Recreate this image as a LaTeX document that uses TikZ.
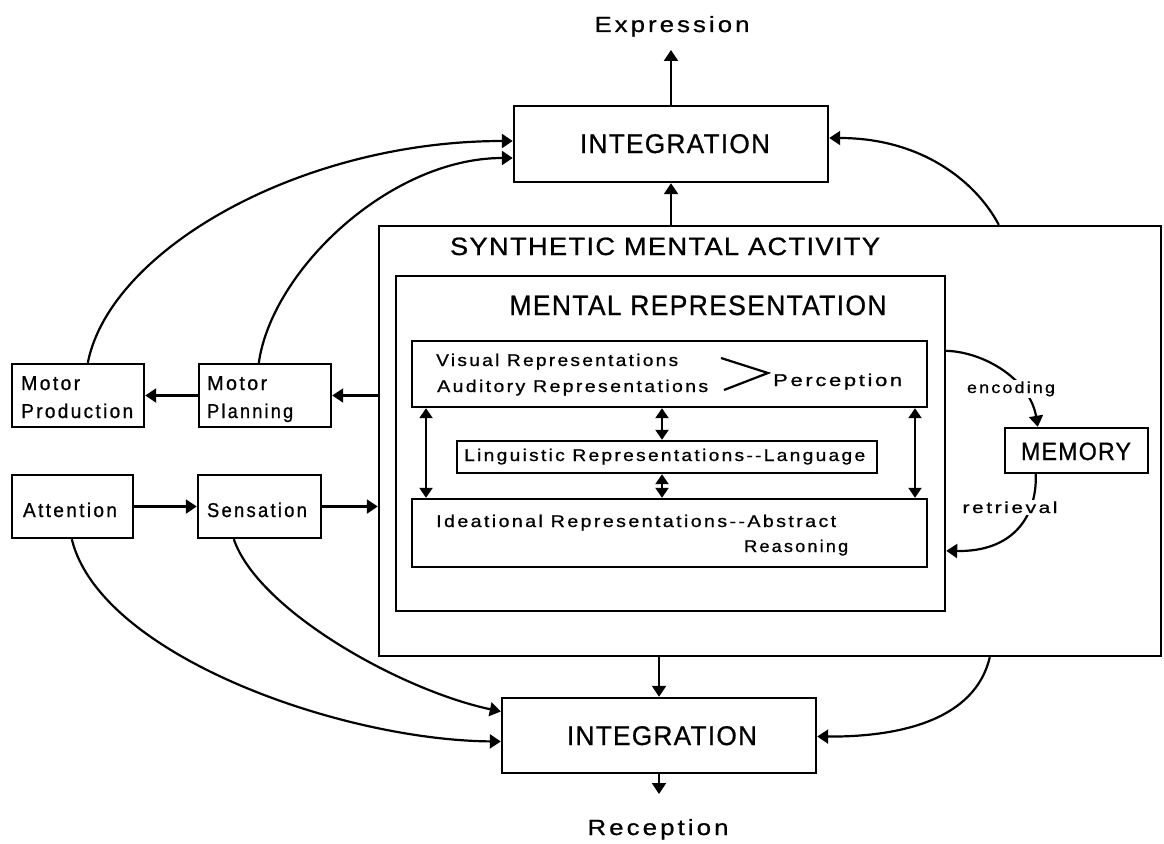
\documentclass[tikz,border=0pt]{standalone}
\usepackage{fontspec}
\usepackage{graphicx}
\usetikzlibrary{arrows.meta,fit,calc}
\newfontfamily\lcf[LetterSpace=12,FakeBold=0.8]{Liberation Sans}
\newfontfamily\ucf[LetterSpace=5,FakeBold=0.8]{Liberation Sans}
\newcommand\fw[3]{\resizebox{#1pt}{\height}{\fontsize{#2}{#2}\selectfont #3}}
\begin{document}
\begin{tikzpicture}[x=1pt,y=-1pt,
  box/.style={draw, line width=2.4pt, inner sep=0pt},
  lbl/.style={inner sep=0pt, font=\lcf},
  capl/.style={inner sep=0pt, font=\ucf},
  arr/.style={line width=2.2pt, -{Triangle[length=11pt,width=14pt]}},
  darr/.style={line width=2.2pt, {Triangle[length=10pt,width=13pt]}-{Triangle[length=10pt,width=13pt]}},
  ln/.style={line width=2.2pt}]
\useasboundingbox (0,0) rectangle (1164,843);
\fill[white] (0,0) rectangle (1164,843);

% boxes
\node[box, fit={(514,106) (828,182)}] (int1) {};
\node[box, fit={(379,226) (1161,656)}] (syn) {};
\node[box, fit={(396,276) (945,611)}] (mr) {};
\node[box, fit={(412,341) (927,407)}] (vis) {};
\node[box, fit={(457,441) (877,473)}] (ling) {};
\node[box, fit={(412,499) (927,567)}] (idea) {};
\node[box, fit={(1005,428) (1148,473)}] (mem) {};
\node[box, fit={(12,364) (144,427)}] (mprod) {};
\node[box, fit={(199,364) (331,427)}] (mplan) {};
\node[box, fit={(12,475) (133,538)}] (att) {};
\node[box, fit={(198,475) (321,538)}] (sens) {};
\node[box, fit={(502,698) (816,773)}] (int2) {};

% texts in boxes
\node[capl, anchor=base] (int1t) at (675,153) {\fw{190}{27}{INTEGRATION}};
\node[capl, anchor=base] (int2t) at (662,745) {\fw{190}{27}{INTEGRATION}};
\node[capl, anchor=base] (memt) at (1076,460) {\fw{110}{25}{MEMORY}};

% titles and labels
\node[lbl, anchor=base] (expr) at (672,32) {\fw{155}{22}{Expression}};
\node[lbl, anchor=base] (rec) at (658,835) {\fw{141}{22}{Reception}};
\node[capl, anchor=base] (syntitle) at (665,255) {\fw{430}{25}{SYNTHETIC MENTAL ACTIVITY}};
\node[capl, anchor=base] (mrtitle) at (698,315) {\fw{377}{28}{MENTAL REPRESENTATION}};

\node[lbl, anchor=base west] (mprod1) at (21,390) {\fw{59}{20}{Motor}};
\node[lbl, anchor=base west] (mprod2) at (21,418) {\fw{112}{20}{Production}};
\node[lbl, anchor=base west] (mplan1) at (207,390) {\fw{60}{20}{Motor}};
\node[lbl, anchor=base west] (mplan2) at (207,418) {\fw{86}{20}{Planning}};
\node[lbl, anchor=base] (attt) at (70,517) {\fw{94}{20}{Attention}};
\node[lbl, anchor=base] (senst) at (257,517) {\fw{100}{20}{Sensation}};

\node[lbl, anchor=base west] (vist) at (436,366) {\fw{242}{17}{Visual Representations}};
\node[lbl, anchor=base west] (audt) at (437,392) {\fw{271}{17}{Auditory Representations}};
\node[lbl, anchor=base west] (perc) at (773,386) {\fw{129}{17}{Perception}};
\node[lbl, anchor=base west] (lingt) at (464,461) {\fw{401}{17}{Linguistic Representations-{}-Language}};
\node[lbl, anchor=base west] (ideat) at (436,527) {\fw{400}{17}{Ideational Representations-{}-Abstract}};
\node[lbl, anchor=base west] (reas) at (744,552) {\fw{104}{17}{Reasoning}};

% perception bracket
\coordinate (pv) at (721,358);
\coordinate (pa) at (724,390);
\coordinate (papex) at (768,373);
\draw[ln] (pv) -- (papex) -- (pa);

% straight connectors
\coordinate (exptip) at (671,50);
\coordinate (rectip) at (659,794);
\draw[arr] (int1.north) -- (exptip);
\draw[arr] (syn.north -| int1.south) -- (int1.south);
\draw[arr] (syn.south -| int2.north) -- (int2.north);
\draw[arr] (int2.south) -- (rectip);
\draw[arr] (syn.west |- mplan.east) -- (mplan.east);
\draw[arr] (mplan.west) -- (mprod.east |- mplan.west);
\draw[arr] (att.east) -- (sens.west |- att.east);
\draw[arr] (sens.east) -- (syn.west |- sens.east);

% double arrows
\coordinate (dl) at (426,0);
\coordinate (dr) at (915,0);
\coordinate (dm) at (662,0);
\draw[darr] (vis.south -| dl) -- (idea.north -| dl);
\draw[darr] (vis.south -| dr) -- (idea.north -| dr);
\draw[darr] (vis.south -| dm) -- (ling.north -| dm);
\draw[darr] (ling.south -| dm) -- (idea.north -| dm);

% curved connectors
\draw[arr] ($(mprod.north west)+(77,0)$) .. controls (110,250) and (300,141) .. ($(int1.west)+(0,-3)$);
\draw[arr] ($(mplan.north west)+(61,0)$) .. controls (272,270) and (390,158) .. ($(int1.west)+(0,14)$);
\draw[arr] ($(syn.north west)+(621,0)$) .. controls (975,180) and (920,138) .. ($(int1.east)+(0,-6)$);
\draw[arr] ($(att.south west)+(61,0)$) .. controls (100,655) and (340,740) .. ($(int2.west)+(0,6)$);
\draw[arr] ($(sens.south west)+(37,0)$) .. controls (258,610) and (400,690) .. ($(int2.west)+(0,-24)$);
\draw[arr] ($(syn.south west)+(612,0)$) .. controls (975,720) and (900,737) .. ($(int2.east)+(0,1)$);

% memory
\draw[arr] ($(mr.north east)+(0,76)$) .. controls (985,352) and (1030,380) .. ($(mem.north west)+(34,0)$);
\draw[arr] ($(mem.south west)+(32,0)$) .. controls (1037,520) and (1010,552) .. ($(mr.north east)+(0,276)$);
\node[lbl, anchor=base, fill=white, inner sep=1.5pt] (enc) at (1011,393) {\fw{88}{16}{encoding}};
\node[lbl, anchor=base, fill=white, inner sep=1.5pt] (ret) at (1010,513) {\fw{95}{16}{retrieval}};
\end{tikzpicture}
\end{document}
